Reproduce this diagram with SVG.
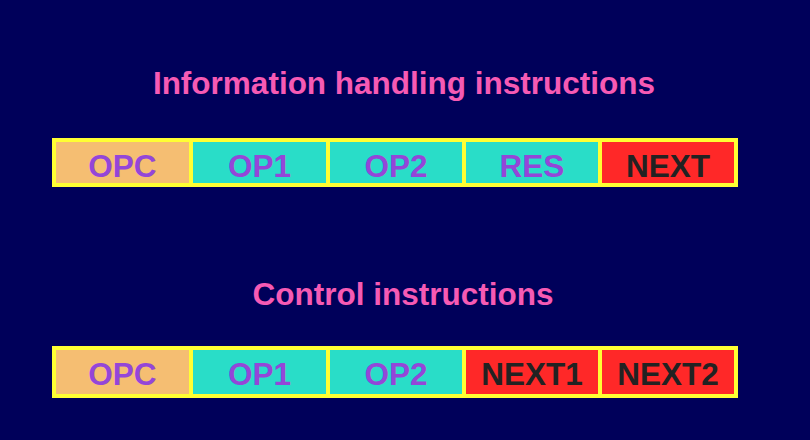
<svg xmlns="http://www.w3.org/2000/svg" width="810" height="440" viewBox="0 0 810 440">
<style>
.t{font-family:"Liberation Sans",Arial,sans-serif;font-weight:bold;font-size:31.5px;text-anchor:middle}
.title{fill:#F65AB4}
.cell{stroke:#FFFF33;stroke-width:4}
.opc{fill:#F5BE72}
.op{fill:#29DDC8}
.nx{fill:#FF2828}
.pl{fill:#9446D8}
.dk{fill:#222222}
</style>
<rect width="810" height="440" fill="#00005A"/>
<text class="t title" x="404" y="94">Information handling instructions</text>
<text class="t title" x="403" y="305">Control instructions</text>
<g id="row1">
<g id="r1-opc"><rect class="cell opc" x="54" y="140" width="137" height="45"/><text class="t pl" x="122.5" y="177">OPC</text></g>
<g id="r1-op1"><rect class="cell op" x="191" y="140" width="137" height="45"/><text class="t pl" x="259.5" y="177">OP1</text></g>
<g id="r1-op2"><rect class="cell op" x="328" y="140" width="136" height="45"/><text class="t pl" x="396" y="177">OP2</text></g>
<g id="r1-res"><rect class="cell op" x="464" y="140" width="136" height="45"/><text class="t pl" x="532" y="177">RES</text></g>
<g id="r1-next"><rect class="cell nx" x="600" y="140" width="136" height="45"/><text class="t dk" x="668" y="177">NEXT</text></g>
</g>
<g id="row2">
<g id="r2-opc"><rect class="cell opc" x="54" y="348" width="137" height="48"/><text class="t pl" x="122.5" y="385">OPC</text></g>
<g id="r2-op1"><rect class="cell op" x="191" y="348" width="137" height="48"/><text class="t pl" x="259.5" y="385">OP1</text></g>
<g id="r2-op2"><rect class="cell op" x="328" y="348" width="136" height="48"/><text class="t pl" x="396" y="385">OP2</text></g>
<g id="r2-next1"><rect class="cell nx" x="464" y="348" width="136" height="48"/><text class="t dk" x="532" y="385">NEXT1</text></g>
<g id="r2-next2"><rect class="cell nx" x="600" y="348" width="136" height="48"/><text class="t dk" x="668" y="385">NEXT2</text></g>
</g>
<g id="connectors"/>
</svg>
